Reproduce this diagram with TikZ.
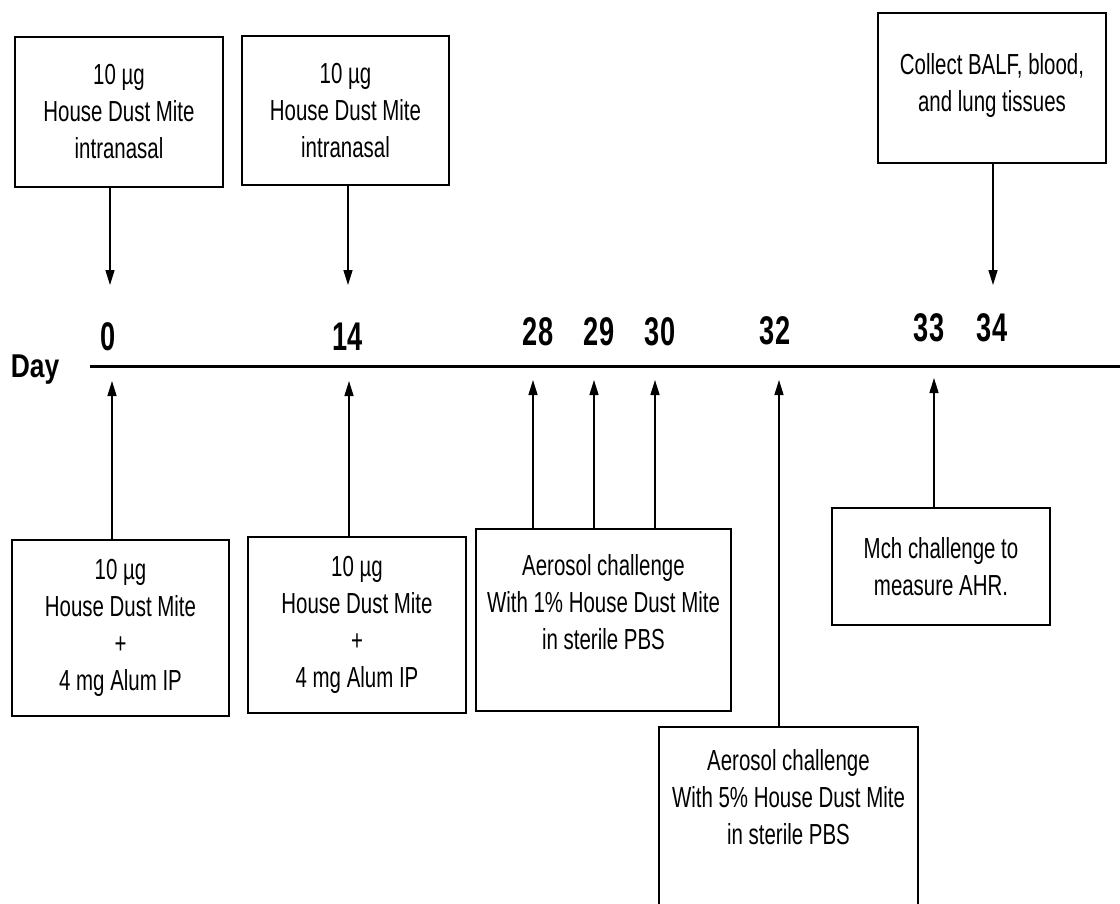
\documentclass[tikz,border=0pt]{standalone}
\usepackage{fontspec}
\setmainfont{Liberation Sans}[FakeStretch=0.705]
\newfontfamily\daynumfont{Liberation Sans}[FakeStretch=0.68]
\newfontfamily\daywordfont{Liberation Sans}[FakeStretch=0.8]
\usepackage{tikz}
\usetikzlibrary{arrows.meta,positioning}
\tikzset{
  >={Triangle[width=9pt,length=15pt]},
  every node/.style={text=black},
  box/.style={draw,line width=1.8pt,align=center,inner sep=0pt,font=\fontsize{29}{37}\selectfont},
  daynum/.style={inner sep=0pt,font=\daynumfont\bfseries\fontsize{40}{40}\selectfont},
  dayword/.style={inner sep=0pt,font=\daywordfont\bfseries\fontsize{33}{33}\selectfont},
  arrow/.style={->,line width=1.5pt},
  axis/.style={->,line width=3pt,>={Triangle[width=15pt,length=15pt]}}
}

\begin{document}
\begin{tikzpicture}[x=1pt,y=-1pt]
  \useasboundingbox (0,0) rectangle (1120,903);
  \clip (0,0) rectangle (1120,903);

  % doses and sampling above the line
  \node[box,minimum width=208pt,minimum height=150pt] (hdmA) at (119,112) {10 µg\\House Dust Mite\\intranasal};
  \node[box,minimum width=207pt,minimum height=149pt] (hdmB) at (345.5,110.5) {10 µg\\House Dust Mite\\intranasal};
  \node[box,minimum width=228pt,minimum height=150pt,text depth=12pt] (collect) at (992,88) {Collect BALF, blood,\\and lung tissues};

  % time line
  \node[dayword] (day) at (35,370) {Day};
  \coordinate (tStart) at (90,366);
  \coordinate (tEnd) at (1135,366);
  \draw[axis] (tStart) -- (tEnd);

  \node[daynum] (n0) at (108,337) {0};
  \node[daynum] (n14) at (348,337) {14};
  \node[daynum] (n28) at (538,332) {28};
  \node[daynum] (n29) at (599,332) {29};
  \node[daynum] (n30) at (660,332) {30};
  \node[daynum] (n32) at (775,331) {32};
  \node[daynum] (n33) at (929,328) {33};
  \node[daynum] (n34) at (992,328) {34};

  % treatments below the line
  \node[box,minimum width=217pt,minimum height=176pt] (b0) at (120.5,628) {10 µg\\House Dust Mite\\+\\4 mg Alum IP};
  \node[box,minimum width=218pt,minimum height=176pt] (b14) at (357,625) {10 µg\\House Dust Mite\\+\\4 mg Alum IP};
  \node[box,minimum width=255pt,minimum height=182pt,text depth=36pt] (b28) at (603.5,620) {Aerosol challenge\\With 1\% House Dust Mite\\in sterile PBS};
  \node[box,minimum width=218pt,minimum height=117pt] (mch) at (941,566.5) {Mch challenge to\\measure AHR.};
  \node[box,minimum width=259pt,minimum height=203pt,text depth=63pt] (b32) at (788.5,828.5) {Aerosol challenge\\With 5\% House Dust Mite\\in sterile PBS};

  % arrow ends
  \coordinate (d0) at (110,285);
  \coordinate (d14) at (348,285);
  \coordinate (d34) at (993,285);
  \coordinate (u0) at (112,381);
  \coordinate (u14) at (349,381);
  \coordinate (u28) at (533,380);
  \coordinate (u29) at (594,380);
  \coordinate (u30) at (655,380);
  \coordinate (u32) at (779,380);
  \coordinate (u33) at (934,378);

  \draw[arrow] (hdmA.south -| d0) -- (d0);
  \draw[arrow] (hdmB.south -| d14) -- (d14);
  \draw[arrow] (collect.south -| d34) -- (d34);
  \draw[arrow] (b0.north -| u0) -- (u0);
  \draw[arrow] (b14.north -| u14) -- (u14);
  \foreach \d in {28,29,30}
    \draw[arrow] (b28.north -| u\d) -- (u\d);
  \draw[arrow] (b32.north -| u32) -- (u32);
  \draw[arrow] (mch.north -| u33) -- (u33);
\end{tikzpicture}
\end{document}
